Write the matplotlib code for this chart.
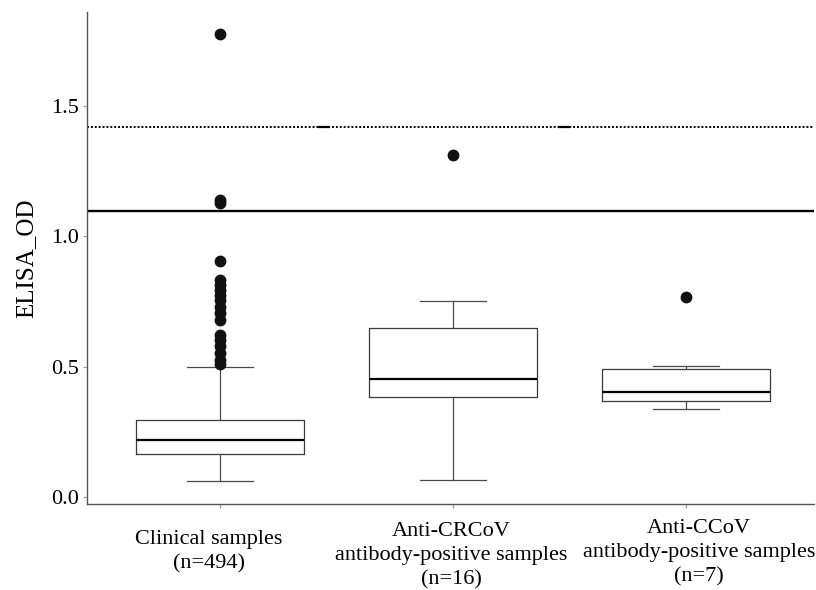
import matplotlib
matplotlib.use("Agg")
import matplotlib.pyplot as plt

plt.rcParams['font.family'] = ['Liberation Serif', 'DejaVu Serif']

# groups on the x axis
categories = ["Clinical samples\n(n=494)",
              "Anti-CRCoV\nantibody-positive samples\n(n=16)",
              "Anti-CCoV\nantibody-positive samples\n(n=7)"]

# box statistics
q1 = [0.165, 0.384, 0.367]
med = [0.219, 0.453, 0.403]
q3 = [0.295, 0.647, 0.490]
whislo = [0.063, 0.066, 0.336]
whishi = [0.500, 0.753, 0.502]

# outliers
fliers_clinical = [1.776, 1.139, 1.128, 0.903, 0.832, 0.813, 0.794, 0.775,
                   0.756, 0.730, 0.706, 0.679, 0.621, 0.602, 0.577, 0.552,
                   0.526, 0.510]
fliers_crcov = [1.313]
fliers_ccov = [0.768]

# cut-off lines
cutoff_solid = 1.097
cutoff_dotted = 1.418
# little solid bits on the dotted line (between groups)
dotted_marks = [1.446, 2.476]

yticks = [0.0, 0.5, 1.0, 1.5]

# the category labels are not quite centred under their ticks in the original
label_dx = [-11, -2, 13]      # pixels
label_dy = [26.5, 18.5, 15.5]  # pixels below the axis


def main():
    fig = plt.figure(figsize=(8.16, 5.9), dpi=100)
    ax = fig.add_axes([0.1066, 0.1458, 0.891, 0.834])

    fliers = [fliers_clinical, fliers_crcov, fliers_ccov]
    stats = []
    for i in range(len(categories)):
        stats.append(dict(q1=q1[i], med=med[i], q3=q3[i],
                          whislo=whislo[i], whishi=whishi[i],
                          fliers=fliers[i]))

    positions = list(range(1, len(categories) + 1))
    ax.bxp(stats, positions=positions, widths=0.72, capwidths=0.28,
           showfliers=True, patch_artist=False,
           boxprops=dict(color='#3a3a3a', linewidth=0.9),
           medianprops=dict(color='black', linewidth=1.6),
           whiskerprops=dict(color='#4a4a4a', linewidth=0.9),
           capprops=dict(color='#4a4a4a', linewidth=0.9),
           flierprops=dict(marker='o', markersize=7.5,
                           markerfacecolor='#111111',
                           markeredgecolor='#111111'))

    ax.axhline(cutoff_solid, color='black', linewidth=1.7, zorder=1)
    ax.axhline(cutoff_dotted, color='black', linewidth=1.4,
               linestyle=(0, (1, 1)), zorder=1)
    for xm in dotted_marks:
        ax.hlines(cutoff_dotted, xm - 0.026, xm + 0.026, color='black',
                  linewidth=1.6, zorder=1)

    ax.set_xlim(0.429, 3.549)
    ax.set_ylim(-0.027, 1.86)
    ax.set_yticks(yticks)
    ax.set_yticklabels(["%.1f" % v for v in yticks], fontsize=16)
    ax.set_xticks(positions)
    ax.set_xticklabels([])
    for i, lab in enumerate(categories):
        ax.annotate(lab, xy=(positions[i], 0),
                    xycoords=('data', 'axes fraction'),
                    xytext=(label_dx[i] * 0.72, -label_dy[i] * 0.72),
                    textcoords='offset points',
                    ha='center', va='top', multialignment='center',
                    fontsize=16, linespacing=1.33, annotation_clip=False)
    ax.set_ylabel("ELISA_OD", fontsize=18, labelpad=10)

    for side in ['top', 'right']:
        ax.spines[side].set_visible(False)
    for side in ['left', 'bottom']:
        ax.spines[side].set_color('#555555')
        ax.spines[side].set_linewidth(1.0)

    ax.tick_params(axis='both', length=3, color='#999999',
                   labelcolor='black')
    ax.tick_params(axis='y', pad=3)

    fig.savefig("out.png", dpi=100)


main()
